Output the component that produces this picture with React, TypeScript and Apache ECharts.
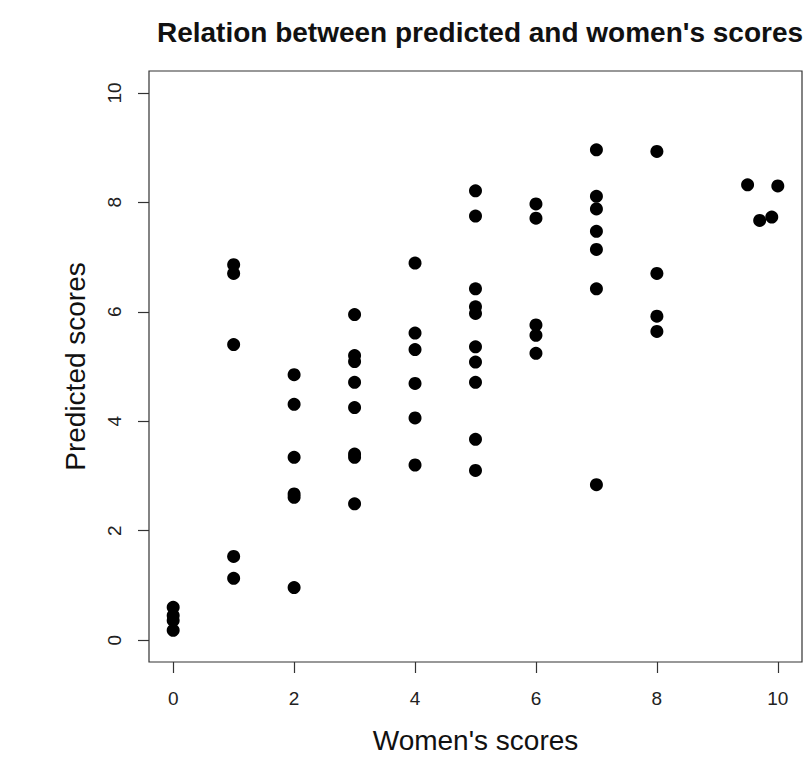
import React, { useEffect, useRef } from "react";
import * as echarts from "echarts";

const chartTitle = "Relation between predicted and women's scores";
const xAxisTitle = "Women's scores";
const yAxisTitle = "Predicted scores";
const tickValues = [0, 2, 4, 6, 8, 10];

// Women's scores (x) and predicted scores (y), point by point
const womenScores = [
  0, 0, 0, 0,
  1, 1, 1, 1, 1,
  2, 2, 2, 2, 2, 2,
  3, 3, 3, 3, 3, 3, 3, 3,
  4, 4, 4, 4, 4, 4,
  5, 5, 5, 5, 5, 5, 5, 5, 5, 5,
  6, 6, 6, 6, 6,
  7, 7, 7, 7, 7, 7, 7,
  8, 8, 8, 8,
  9.5, 10, 9.7, 9.9,
];
const predictedScores = [
  0.6, 0.45, 0.36, 0.18,
  6.86, 6.7, 5.4, 1.53, 1.13,
  4.85, 4.31, 3.34, 2.67, 2.61, 0.96,
  5.95, 5.2, 5.09, 4.71, 4.25, 3.4, 3.34, 2.49,
  6.89, 5.61, 5.31, 4.69, 4.06, 3.2,
  8.21, 7.75, 6.42, 6.09, 5.97, 5.36, 5.08, 4.71, 3.67, 3.1,
  7.97, 7.71, 5.76, 5.57, 5.24,
  8.96, 8.11, 7.88, 7.47, 7.14, 6.42, 2.84,
  8.93, 6.7, 5.92, 5.64,
  8.32, 8.3, 7.67, 7.73,
];

const FONT = "'Liberation Sans', Arial, Helvetica, sans-serif";

export default function App() {
  const ref = useRef<HTMLDivElement>(null);

  useEffect(() => {
    document.body.style.margin = "0";
    if (!ref.current) return;
    const chart = echarts.init(ref.current, undefined, { renderer: "svg" });
    const points = womenScores.map((x, i) => [x, predictedScores[i]]);
    chart.setOption({
      animation: false,
      backgroundColor: "#ffffff",
      textStyle: { fontFamily: FONT },
      title: {
        text: chartTitle,
        left: 475,
        top: 13,
        textAlign: "center",
        textStyle: { fontFamily: FONT, fontSize: 28, fontWeight: "bold", color: "#111" },
      },
      grid: {
        left: 149,
        right: 3,
        top: 71,
        bottom: 103,
        show: true,
        borderColor: "#333",
        borderWidth: 1.2,
        backgroundColor: "transparent",
      },
      xAxis: {
        type: "value",
        min: -0.4,
        max: 10.4,
        name: xAxisTitle,
        nameLocation: "middle",
        nameGap: 64,
        nameTextStyle: { fontFamily: FONT, fontSize: 28, color: "#111" },
        axisLine: { show: false, onZero: false },
        splitLine: { show: false },
        axisTick: {
          show: true,
          length: 11,
          lineStyle: { color: "#333", width: 1.2 },
          customValues: tickValues,
        },
        axisLabel: {
          customValues: tickValues,
          fontFamily: FONT,
          fontSize: 19,
          color: "#222",
          margin: 27,
        },
      },
      yAxis: {
        type: "value",
        min: -0.4,
        max: 10.4,
        name: yAxisTitle,
        nameLocation: "middle",
        nameGap: 60,
        nameRotate: 90,
        nameTextStyle: { fontFamily: FONT, fontSize: 28, color: "#111" },
        axisLine: { show: false, onZero: false },
        splitLine: { show: false },
        axisTick: {
          show: true,
          length: 11,
          lineStyle: { color: "#333", width: 1.2 },
          customValues: tickValues,
        },
        axisLabel: {
          customValues: tickValues,
          rotate: 90,
          fontFamily: FONT,
          fontSize: 19,
          color: "#222",
          margin: 25,
          align: "center",
          verticalAlign: "bottom",
        },
      },
      series: [
        {
          type: "scatter",
          data: points,
          symbol: "circle",
          symbolSize: 13,
          itemStyle: { color: "#000", opacity: 1 },
        },
      ],
    });
    return () => chart.dispose();
  }, []);

  return (
    <div
      ref={ref}
      style={{ position: "absolute", left: 0, top: 0, width: 805, height: 765, background: "#fff" }}
    />
  );
}
